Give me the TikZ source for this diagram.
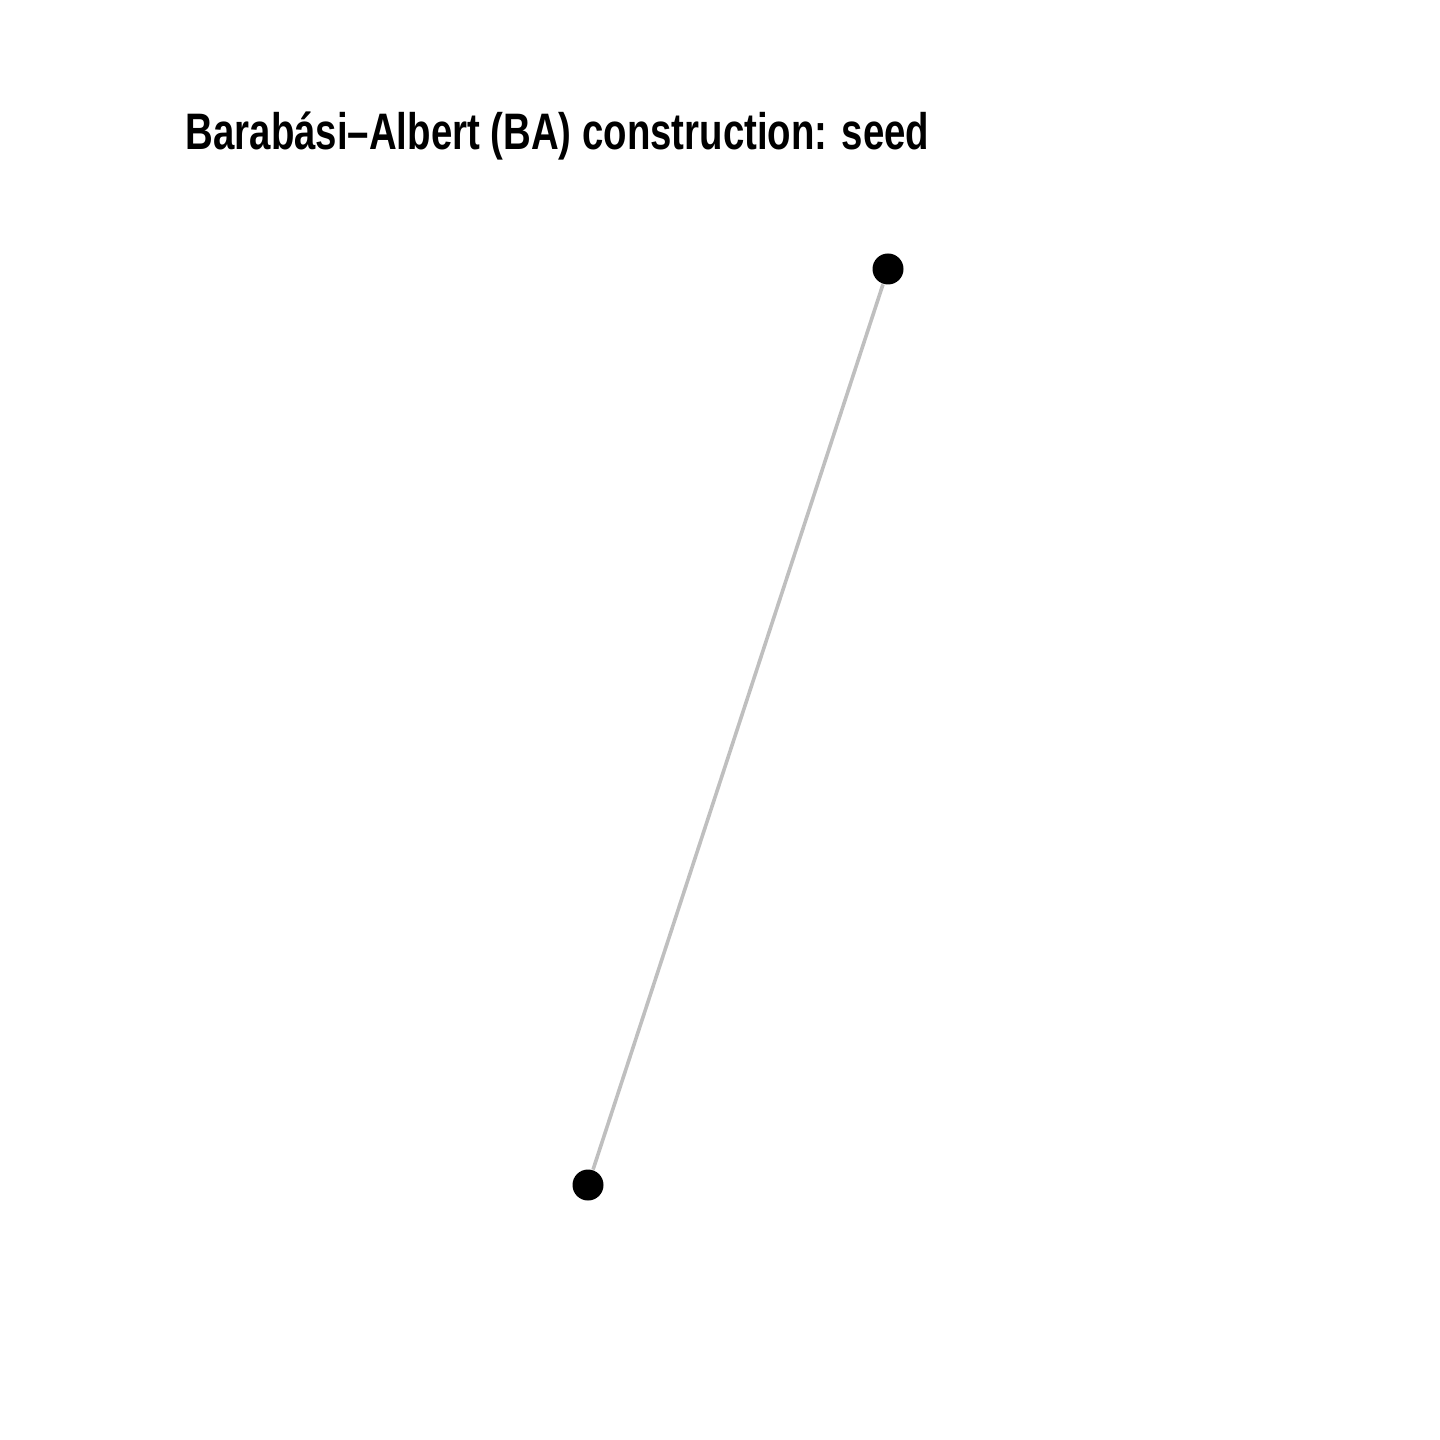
\documentclass[tikz,border=0pt]{standalone}
\usepackage{fontspec}
\setmainfont{Liberation Sans}
\begin{document}
\begin{tikzpicture}[x=0.1mm,y=-0.1mm,
  vertex/.style={circle,fill=black,inner sep=0pt,minimum size=3.1mm},
  edge/.style={draw=black!25,line width=0.36mm},
  title/.style={anchor=base west,inner sep=0pt,font=\bfseries\fontsize{14.6pt}{16pt}\selectfont}]
\useasboundingbox (0,0) rectangle (1440,1440);
\node[title] (t) at (185,150) {\scalebox{0.748}[1]{Barabási–Albert (BA) construction: seed}};
\node[vertex] (a) at (888,269) {};
\node[vertex] (b) at (588,1185) {};
\draw[edge] (a) -- (b);
\end{tikzpicture}
\end{document}
